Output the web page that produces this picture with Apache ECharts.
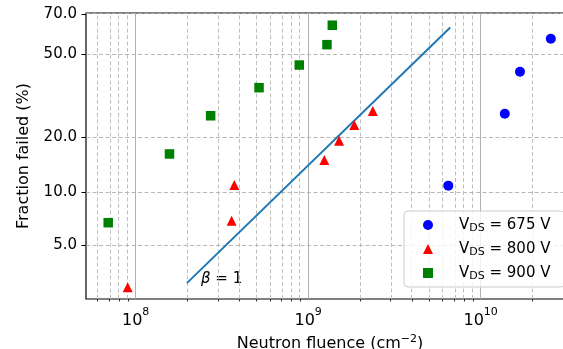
<!DOCTYPE html>
<html>
<head>
<meta charset="utf-8">
<script src="https://cdn.jsdelivr.net/npm/echarts@6/dist/echarts.min.js"></script>
<style>
  html, body { margin: 0; padding: 0; background: #fff; }
  #chart { width: 563px; height: 349px; }
</style>
</head>
<body>
<div id="chart"></div>
<script>
// data (fluence in cm^-2, fraction failed in %)
const fluence675 = [6.49e9, 1.38e10, 1.69e10, 2.55e10]
const failed675 = [10.9, 26.5, 42.1, 57.6]
const fluence800 = [8.99e7, 3.60e8, 3.73e8, 1.24e9, 1.51e9, 1.85e9, 2.37e9]
const failed800 = [2.84, 6.9, 11.0, 15.1, 19.2, 23.2, 27.4]
const fluence900 = [6.93e7, 1.57e8, 2.72e8, 5.19e8, 8.88e8, 1.285e9, 1.38e9]
const failed900 = [6.72, 16.3, 25.9, 35.6, 45.1, 54.7, 64.4]
// beta = 1 reference line
const fitFluence = [1.98e8, 6.66e9]
const fitFailed = [3.0, 63.3]

// ticks
const yTicks = [5, 10, 20, 50, 70]
const xDecades = [8, 9, 10]

const FONT = 'DejaVu Sans'

// weibull scale for y, log10 for x
const weib = f => Math.log(-Math.log(1 - f / 100))
const unweib = w => 100 * (1 - Math.exp(-Math.exp(w)))
const lg = v => Math.log10(v)

const xMin = 7.712
const xMax = 10.541
const yMin = -3.708
const yMax = 0.1993

const toPoints = (xs, ys) => xs.map((x, i) => [lg(x), weib(ys[i])])

const minorX = []
for (let d = 7; d <= 10; d++) {
  for (let k = 2; k <= 9; k++) {
    const v = lg(k * Math.pow(10, d))
    if (v > xMin && v < xMax) minorX.push(v)
  }
}

const gridLines = [
  ...xDecades.map(d => ({ xAxis: d, lineStyle: { type: 'solid', color: '#b0b0b0', width: 1 } })),
  ...minorX.map(v => ({ xAxis: v, lineStyle: { type: [4, 2.5], color: '#b8b8b8', width: 0.9 } })),
  ...yTicks.map(t => ({ yAxis: weib(t), lineStyle: { type: [4, 2.5], color: '#b0b0b0', width: 0.9 } })),
]

const chart = echarts.init(document.getElementById('chart'))

chart.setOption({
  animation: false,
  textStyle: { fontFamily: FONT },
  grid: {
    left: 86, width: 488, top: 13, height: 286,
    outerBoundsMode: 'none',
    show: true, borderColor: '#000', borderWidth: 1.2,
  },
  xAxis: [
    {
      type: 'value', min: xMin, max: xMax,
      name: 'Neutron fluence (cm{sup|−2})',
      nameLocation: 'middle', nameGap: 30,
      nameTextStyle: {
        fontSize: 16, color: '#000', fontFamily: FONT,
        rich: { sup: { fontSize: 11, verticalAlign: 'top', padding: [0, 0, 8, 0], fontFamily: FONT, color: '#000' } },
      },
      axisLine: { show: false },
      splitLine: { show: false },
      axisTick: { customValues: xDecades, length: 4.5, lineStyle: { color: '#000', width: 1 } },
      axisLabel: {
        customValues: xDecades, margin: 8, color: '#000',
        formatter: v => '{b|10}{s|' + Math.round(v) + '}',
        rich: {
          b: { fontSize: 16, fontFamily: FONT, color: '#000', padding: [6, 0, 0, 0] },
          s: { fontSize: 11, fontFamily: FONT, color: '#000', verticalAlign: 'top' },
        },
      },
    },
    {
      type: 'value', min: xMin, max: xMax, position: 'bottom', offset: 0,
      axisLine: { show: false },
      splitLine: { show: false },
      axisLabel: { show: false },
      axisTick: { customValues: minorX, length: 2.5, lineStyle: { color: '#000', width: 0.8 } },
    },
  ],
  yAxis: {
    type: 'value', min: yMin, max: yMax,
    name: 'Fraction failed (%)',
    nameLocation: 'middle', nameGap: 54,
    nameTextStyle: { fontSize: 16, color: '#000', fontFamily: FONT },
    axisLine: { show: false },
    splitLine: { show: false },
    axisTick: { customValues: yTicks.map(weib), length: 4.5, lineStyle: { color: '#000', width: 1 } },
    axisLabel: {
      customValues: yTicks.map(weib), margin: 9, fontSize: 15, color: '#000', fontFamily: FONT,
      formatter: v => unweib(v).toFixed(1),
    },
  },
  legend: {
    orient: 'vertical', left: 404, top: 211, z: 20,
    padding: [5, 14, 5, 19],
    itemWidth: 10, itemHeight: 10, itemGap: 6,
    borderColor: '#cccccc', borderWidth: 1, borderRadius: 4,
    backgroundColor: 'rgba(255,255,255,0.8)',
    data: [
      { name: 'v675', icon: 'circle' },
      { name: 'v800', icon: 'triangle' },
      { name: 'v900', icon: 'rect' },
    ],
    formatter: n => '{g|}V{sub|DS} = ' + n.slice(1) + ' V',
    textStyle: {
      fontSize: 15, color: '#000', fontFamily: FONT, lineHeight: 18,
      rich: {
        g: { width: 21 },
        sub: { fontSize: 11, fontFamily: FONT, color: '#000', verticalAlign: 'bottom', lineHeight: 11, padding: [6, 0, 0, 0] },
      },
    },
  },
  graphic: [
    {
      type: 'text', left: 201, top: 272,
      style: {
        text: '{i|β} = 1', fontSize: 15, fontFamily: FONT, fill: '#000',
        rich: { i: { fontStyle: 'italic', fontSize: 15, fontFamily: FONT } },
      },
    },
  ],
  series: [
    {
      type: 'line', name: 'grid', data: [], silent: true,
      markLine: { silent: true, symbol: ['none', 'none'], label: { show: false }, data: gridLines },
    },
    {
      type: 'line', name: 'fit', z: 8, symbol: 'none', silent: true,
      lineStyle: { color: '#1f77b4', width: 2 },
      data: toPoints(fitFluence, fitFailed),
    },
    {
      type: 'scatter', name: 'v675', z: 10, symbol: 'circle', symbolSize: 10,
      itemStyle: { color: '#0000ff', opacity: 1 },
      data: toPoints(fluence675, failed675),
    },
    {
      type: 'scatter', name: 'v800', z: 10, symbol: 'triangle', symbolSize: [10, 10],
      itemStyle: { color: '#ff0000', opacity: 1 },
      data: toPoints(fluence800, failed800),
    },
    {
      type: 'scatter', name: 'v900', z: 10, symbol: 'rect', symbolSize: 9.5,
      itemStyle: { color: '#008000', opacity: 1 },
      data: toPoints(fluence900, failed900),
    },
  ],
})
</script>
</body>
</html>
